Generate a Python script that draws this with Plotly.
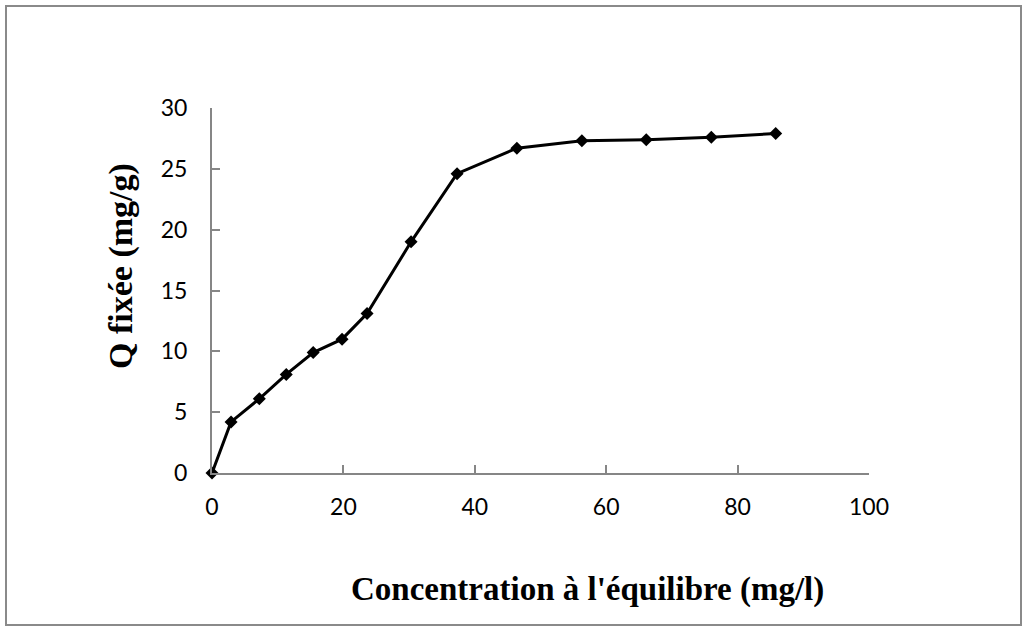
import plotly.graph_objects as go

conc = [0, 2.9, 7.2, 11.3, 15.4, 19.8, 23.6, 30.3, 37.3, 46.4, 56.3, 66.1, 76.0, 85.8]
q_fix = [0, 4.2, 6.1, 8.1, 9.9, 11.0, 13.1, 19.0, 24.6, 26.7, 27.3, 27.4, 27.6, 27.9]
x_ticks = [0, 20, 40, 60, 80, 100]
y_ticks = [0, 5, 10, 15, 20, 25, 30]

L, R, T, B = 212, 157, 108, 157
W, H = 1026, 630
pw, ph = W - L - R, H - T - B

def px(x):
    return (x - L) / pw

def py(y):
    return (H - B - y) / ph

fig = go.Figure()
fig.add_trace(go.Scatter(
    x=conc, y=q_fix, mode="lines+markers",
    line=dict(color="black", width=3),
    marker=dict(symbol="diamond", size=10, color="black"),
    showlegend=False, cliponaxis=False,
))

axis_common = dict(
    showgrid=False, zeroline=False, showline=True, linecolor="#868686", linewidth=2,
    ticks="inside", ticklen=8, tickwidth=2, tickcolor="#868686",
    tickfont=dict(family="Lato, Noto Sans, sans-serif", size=23, color="black"),
)
fig.update_xaxes(range=[0, 100], tickvals=x_ticks, ticklabelstandoff=12, **axis_common)
fig.update_yaxes(range=[0, 30], tickvals=y_ticks, ticklabelstandoff=18, **axis_common)

fig.add_shape(type="rect", xref="paper", yref="paper",
              x0=px(6), x1=px(1021), y0=py(6), y1=py(625),
              line=dict(color="#8a8a8a", width=2), layer="below")

fig.add_annotation(text="<b>Concentration à l'équilibre (mg/l)</b>", xref="paper", yref="paper",
                   x=px(587), y=py(589), showarrow=False, xanchor="center", yanchor="middle",
                   font=dict(family="Liberation Serif, Times New Roman, serif", size=33, color="black"))
fig.add_annotation(text="<b>Q fixée (mg/g)</b>", xref="paper", yref="paper",
                   x=px(121), y=py(266), showarrow=False, textangle=-90,
                   xanchor="center", yanchor="middle",
                   font=dict(family="Liberation Serif, Times New Roman, serif", size=34, color="black"))

fig.update_layout(
    width=W, height=H,
    margin=dict(l=L, r=R, t=T, b=B),
    plot_bgcolor="white", paper_bgcolor="white",
)
fig.write_html("out.html")
